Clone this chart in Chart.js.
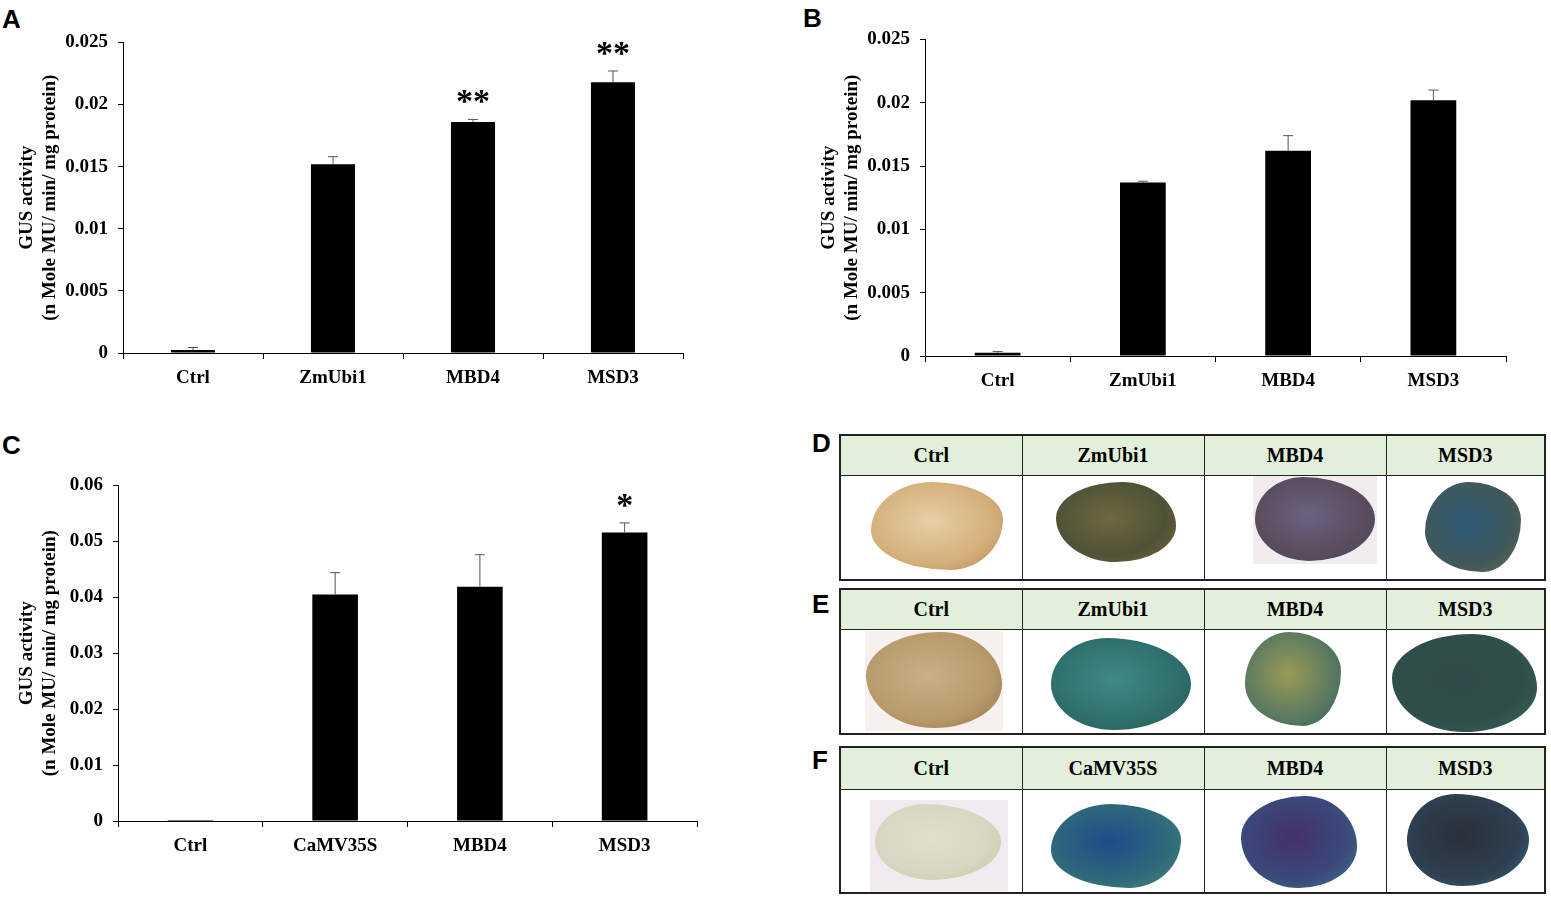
<!DOCTYPE html>
<html>
<head>
<meta charset="utf-8">
<script src="https://cdn.jsdelivr.net/npm/chart.js@4.4.0/dist/chart.umd.min.js"></script>
<style>
    body { margin: 0; background: #fff; }
    #fig { position: relative; width: 1551px; height: 899px; overflow: hidden; }
    .panel { position: absolute; font: bold 26px "Liberation Sans", Arial, sans-serif; color: #000; }
    .box { position: absolute; }
    table.photos { position: absolute; border-collapse: collapse; border: 2px solid #222; table-layout: fixed; }
    table.photos td { border: 1.5px solid #222; padding: 0; position: relative; }
    table.photos td.hd { background: #e2efda; text-align: center; font: bold 20px "Liberation Serif", "Times New Roman", serif; color: #000; }
    .blob { position: absolute; }
</style>
</head>
<body>
<div id="fig">
    <div class="panel" style="left:2px;top:4px;">A</div>
    <div class="panel" style="left:803px;top:3px;">B</div>
    <div class="panel" style="left:2px;top:430px;">C</div>
    <div class="panel" style="left:812px;top:428px;">D</div>
    <div class="panel" style="left:812px;top:589px;">E</div>
    <div class="panel" style="left:812px;top:745px;">F</div>

    <div class="box" style="left:0px;top:21px;width:700px;height:389px;"><canvas id="chartA"></canvas></div>
    <div class="box" style="left:802px;top:18px;width:720px;height:394px;"><canvas id="chartB"></canvas></div>
    <div class="box" style="left:0px;top:464px;width:715px;height:416px;"><canvas id="chartC"></canvas></div>

    <div id="tableD"></div>
    <div id="tableE"></div>
    <div id="tableF"></div>
</div>

<script>
// 데이터
var labelsAB = ['Ctrl', 'ZmUbi1', 'MBD4', 'MSD3'];
var labelsC = ['Ctrl', 'CaMV35S', 'MBD4', 'MSD3'];

var valuesA = [0.00024, 0.0152, 0.0186, 0.0218];
var errorsA = [0.0002, 0.0006, 0.0002, 0.0009];
var starsA = ['', '', '**', '**'];

var valuesB = [0.00026, 0.0137, 0.0162, 0.0202];
var errorsB = [0.0001, 0.0001, 0.0012, 0.0008];
var starsB = ['', '', '', ''];

var valuesC = [0.0002, 0.0405, 0.0419, 0.0516];
var errorsC = [0, 0.0039, 0.0057, 0.0017];
var starsC = ['', '', '', '*'];

var yTitle = ['GUS activity', '(n Mole MU/ min/ mg protein)'];
var serif = '"Liberation Serif", "Times New Roman", serif';

// 에러바 + 별표
var errorBarPlugin = {
    id: 'errorBars',
    afterDatasetsDraw: function(chart, args, opts) {
        var ctx = chart.ctx;
        var yScale = chart.scales.y;
        var ds = chart.data.datasets[0];
        chart.getDatasetMeta(0).data.forEach(function(bar, i) {
            var top = yScale.getPixelForValue(ds.data[i] + opts.errors[i]);
            ctx.save();
            if (opts.errors[i] > 0) {
                ctx.strokeStyle = '#555';
                ctx.lineWidth = 1;
                ctx.beginPath();
                ctx.moveTo(bar.x, bar.y);
                ctx.lineTo(bar.x, top);
                ctx.moveTo(bar.x - 5, top);
                ctx.lineTo(bar.x + 5, top);
                ctx.stroke();
            }
            if (opts.stars[i]) {
                ctx.fillStyle = '#000';
                ctx.font = 'bold 34px ' + serif;
                ctx.textAlign = 'center';
                ctx.textBaseline = 'alphabetic';
                ctx.fillText(opts.stars[i], bar.x, top - 7);
            }
            ctx.restore();
        });
    }
};

function makeChart(id, labels, values, errors, stars, yMax, step, yWidth, xHeight, pad) {
    var ctx = document.getElementById(id).getContext('2d');
    return new Chart(ctx, {
        type: 'bar',
        data: {
            labels: labels,
            datasets: [{
                data: values,
                backgroundColor: '#000',
                borderWidth: 0,
                categoryPercentage: 1,
                barPercentage: 0.315
            }]
        },
        plugins: [errorBarPlugin],
        options: {
            responsive: true,
            maintainAspectRatio: false,
            animation: false,
            layout: { padding: pad },
            plugins: {
                legend: { display: false },
                tooltip: { enabled: false },
                errorBars: { errors: errors, stars: stars }
            },
            scales: {
                x: {
                    afterFit: function(scale) { scale.height = xHeight; },
                    grid: { offset: true, drawOnChartArea: false, drawTicks: true, tickLength: 6, color: '#000' },
                    border: { color: '#000', width: 1 },
                    ticks: { color: '#000', padding: 8, font: { family: serif, size: 19, weight: 'bold' } }
                },
                y: {
                    min: 0,
                    max: yMax,
                    afterFit: function(scale) { scale.width = yWidth; },
                    grid: { drawOnChartArea: false, drawTicks: true, tickLength: 5, color: '#000' },
                    border: { color: '#000', width: 1 },
                    ticks: {
                        stepSize: step,
                        color: '#000',
                        padding: 10,
                        font: { family: serif, size: 19, weight: 'bold' },
                        callback: function(v) { return String(Number(v.toFixed(4))); }
                    },
                    title: {
                        display: true,
                        text: yTitle,
                        color: '#000',
                        font: { family: serif, size: 19, weight: 'bold', lineHeight: 1.2 },
                        padding: { top: 16, bottom: 0 }
                    }
                }
            }
        }
    });
}

makeChart('chartA', labelsAB, valuesA, errorsA, starsA, 0.025, 0.005, 123, 57, { top: 6, right: 17 });
makeChart('chartB', labelsAB, valuesB, errorsB, starsB, 0.025, 0.005, 123, 56, { top: 6, right: 16 });
makeChart('chartC', labelsC, valuesC, errorsC, starsC, 0.06, 0.01, 118, 59, { top: 8, right: 18 });

// 사진 테이블 (사진 대신 색 덩어리)
function buildTable(id, left, top, headH, bodyH, names, blobs) {
    var widths = [182, 182, 182, 159];
    var html = '<table class="photos" style="left:' + left + 'px;top:' + top + 'px;width:706px;">';
    html += '<colgroup>';
    widths.forEach(function(w) { html += '<col style="width:' + w + 'px">'; });
    html += '</colgroup><tr style="height:' + headH + 'px">';
    names.forEach(function(n) { html += '<td class="hd">' + n + '</td>'; });
    html += '</tr><tr style="height:' + bodyH + 'px">';
    blobs.forEach(function(b) {
        html += '<td>';
        if (b.bg) {
            html += '<div class="blob" style="left:' + b.bx + 'px;top:' + b.by + 'px;width:' + b.bw + 'px;height:' + b.bh + 'px;background:' + b.bg + ';"></div>';
        }
        html += '<div class="blob" style="left:' + b.x + 'px;top:' + b.y + 'px;width:' + b.w + 'px;height:' + b.h +
            'px;border-radius:' + b.r + ';background:radial-gradient(ellipse at 45% 45%,' + b.c1 + ' 0%,' + b.c2 + ' 60%,' + b.c3 + ' 100%);"></div>';
        html += '</td>';
    });
    html += '</tr></table>';
    document.getElementById(id).innerHTML = html;
}

var shapeA = '46% 54% 40% 60% / 55% 42% 58% 45%';
var shapeB = '55% 45% 50% 50% / 45% 55% 45% 55%';
var shapeC = '40% 60% 55% 45% / 50% 50% 50% 50%';

buildTable('tableD', 839, 434, 40, 105, ['Ctrl', 'ZmUbi1', 'MBD4', 'MSD3'], [
    { x: 30, y: 6, w: 132, h: 88, r: shapeA, c1: '#e6cfa8', c2: '#d4b07a', c3: '#b48a55' },
    { x: 33, y: 6, w: 120, h: 80, r: shapeB, c1: '#6f6840', c2: '#4e5236', c3: '#7a6a3c' },
    { x: 50, y: 1, w: 120, h: 84, r: shapeC, c1: '#6a6280', c2: '#5a4c5c', c3: '#3c4a66',
      bg: '#f3ecef', bx: 48, by: 0, bw: 124, bh: 88 },
    { x: 38, y: 6, w: 96, h: 90, r: shapeA, c1: '#2d5a78', c2: '#40585a', c3: '#6c6a4e' }
]);

buildTable('tableE', 839, 588, 40, 105, ['Ctrl', 'ZmUbi1', 'MBD4', 'MSD3'], [
    { x: 25, y: 2, w: 136, h: 96, r: shapeB, c1: '#c8b088', c2: '#b89a6a', c3: '#8a6e48',
      bg: '#f6f1ee', bx: 24, by: 1, bw: 138, bh: 100 },
    { x: 28, y: 8, w: 140, h: 92, r: shapeC, c1: '#3f8a86', c2: '#2e6e6a', c3: '#2a5a52' },
    { x: 40, y: 2, w: 96, h: 94, r: shapeA, c1: '#9a9a55', c2: '#5a7a60', c3: '#2f5f66' },
    { x: 5, y: 4, w: 145, h: 98, r: shapeB, c1: '#2f4a48', c2: '#2f4f4a', c3: '#3a6660' }
]);

buildTable('tableF', 839, 746, 42, 104, ['Ctrl', 'CaMV35S', 'MBD4', 'MSD3'], [
    { x: 34, y: 14, w: 126, h: 76, r: shapeC, c1: '#e2e0cc', c2: '#d8d5c0', c3: '#c6c49a',
      bg: '#f1ebef', bx: 29, by: 10, bw: 138, bh: 92 },
    { x: 28, y: 14, w: 130, h: 84, r: shapeA, c1: '#1f4a8a', c2: '#2f6a7a', c3: '#4a8a78' },
    { x: 36, y: 6, w: 116, h: 92, r: shapeB, c1: '#44306a', c2: '#3a4a7a', c3: '#3e7a8a' },
    { x: 20, y: 4, w: 122, h: 92, r: shapeC, c1: '#2a3038', c2: '#2e4050', c3: '#3a6a88' }
]);
</script>
</body>
</html>
